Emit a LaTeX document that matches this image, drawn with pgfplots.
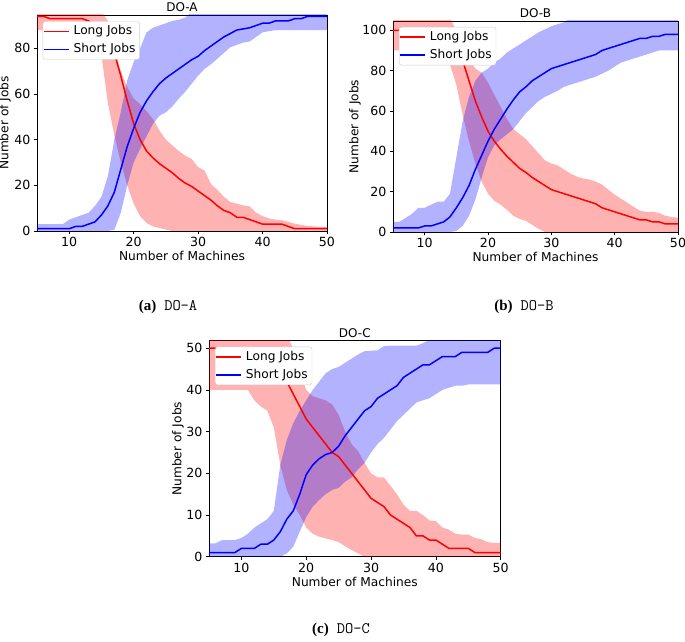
\documentclass[border=0pt]{standalone}
\usepackage{fontspec}
\setmainfont{DejaVu Sans}
\newfontfamily\capfont{Liberation Serif}
\usepackage{pgfplots}
\pgfplotsset{compat=1.18}
\usepackage{pgfplotstable}
\usepgfplotslibrary{fillbetween}

\pgfplotstableread{
x rm rl ru bm bl bu
5 94 88 96 1 0 3
6 94 88 96 1 0 3
7 93 88 96 1 0 3
8 93 88 96 1 0 3
9 93 88 96 1 0 3
10 93 88 96 1 0 5
11 93 88 96 2 0 6
12 93 88 96 2 0 7
13 92 85 96 3 0 8
14 90 82 96 4 0 11
15 89 77 96 7 0 15
16 86 56 92 11 0 24
17 78 42 80 17 0.5 40
18 68 30 70 27 8 52
19 57 20 63 37 20 66
20 47 12 58 45 30 74
21 40 6.5 55.5 52 36 80
22 35 3.5 52.5 57 41.5 87
23 32 2 49 61 47 89
24 29.5 1.3 44 64.5 50.5 90
25 27.5 0.6 40 67 52 91
26 25.5 0 37.5 69 54.5 92
27 23 0 35 71 58 92.5
28 21 0 33 73 61 93.5
29 19.5 0 31.5 75 64.5 96
30 17.5 0 28 76.5 68 96
31 15.5 0 26.5 79 71 96
32 13.5 0 20.5 81 73 96
33 11 0 18 83 75.5 96
34 9 0 15 85 78 96
35 8 0 12.7 86.5 80.5 96
36 6 0 12 88 81.5 96
37 6 0 11.2 88.5 82.5 96
38 5 0 10.8 89 83 96
39 4 0 8 90 85 96
40 3 0 6.5 91 87 96
41 3 0 5.5 91 87.5 96
42 3 0 5 92 88 96
43 3 0 4.7 92 88 96
44 2 0 4 92 88 96
45 1 0 3.2 93 88 96
46 1 0 2.7 93 88 96
47 1 0 2.2 94 88 96
48 1 0 2 94 88 96
49 1 0 1.8 94 88 96
50 1 0 1.7 94 88 96
}\dataA

\pgfplotstableread{
x rm rl ru bm bl bu
5 100 90 106 2 0 5
6 100 90 106 2 0 5
7 100 90 106 2 0 7
8 100 90 106 2 0 9
9 100 90 106 2 0 12
10 99.5 90 106 3 0 12
11 99 89.5 106 3 0 13.5
12 98.5 89 106 4 0 15
13 98 87 106 5 0 15
14 96.5 83 106 7.5 0 19
15 93 73 100 12 0.5 37
16 85 58 93 17 3 55
17 75 45 86 23 8 67
18 65 34 81 31 16 75
19 57 25 79 38 27 79
20 50 19 74 45 37 81
21 45 15.5 68 51 43 84
22 41 13.5 62 56 46 86
23 37.5 11 56 61 48.5 89
24 34.5 8 51 65.5 51 91
25 31.5 6.5 48.5 69.5 55 93
26 29.5 5.5 46 72 59 95
27 27 3.5 42.5 75 62 97
28 25 1.5 39 77 65 99
29 23 0 35.5 79 67 100.5
30 21 0 34 81 68.5 102
31 20 0 33 82 70 103
32 19 0 31 83 72 104
33 18 0 29 84 73 106
34 17 0 27.5 85 74 106
35 16 0 26.5 86 75 106
36 15 0 26 87 76 106
37 14 0 25 88 77 106
38 12 0 23.5 90 78.5 106
39 11 0 21 91 80 106
40 10 0 18.5 92 82 106
41 9 0 16.5 93 84 106
42 8 0 14.5 94 85 106
43 7 0 12.5 95 86 106
44 6 0 10.5 96 87 106
45 6 0 10 96 88 106
46 5 0 10 97 89 106
47 5 0 9.5 97 90 106
48 4 0 8 98 90 106
49 4 0 7.5 98 90 106
50 4 0 7 98 90 106
}\dataB

\pgfplotstableread{
x rm rl ru bm bl bu
5 50 40 53 1 0 3.2
6 50 40 53 1 0 3.2
7 49 40 53 1 0 4
8 49 40 53 1 0 4
9 49 40 53 1 0 4
10 49 40 53 2 0 4.5
11 48.5 40 53 2 0 5.5
12 48 37.5 53 2 0 7
13 47.5 36 53 3 0 8
14 47 35 53 3 0 9
15 46 31 53 4 0 11
16 45 22 53 6 0 22
17 42 16 53 9 0.8 28
18 39 12.5 50 11 2.4 32
19 36 10 44 15 6 35
20 33 7 40 19.7 9.5 37.5
21 31 5.5 38.5 22 12 40
22 29 4.8 38 23.5 13.6 42
23 27 4.4 37.5 24.5 15 44
24 25 4 36.5 25 16 45
25 24 3.5 34 26.5 16.5 45.5
26 22 2.5 30 29 18 46.5
27 20 1.6 27 31 19 47.5
28 18 0.8 25.3 33 21 48.5
29 16 0 22.5 35 22.5 49.3
30 14 0 20 36 25 49.4
31 13 0 19 38 27 49.5
32 12 0 19 39 28.5 50.5
33 10 0 17 40 30.5 50.6
34 9 0 15 41 32.5 50.6
35 8 0 12.5 43 34 50.6
36 7 0 11 44 35.5 50.6
37 5 0 11 45 37 50.6
38 5 0 10 46 37.5 51.2
39 4 0 8.7 46 38 52
40 4 0 8.5 47 39 53
41 3 0 7 48 40 53
42 2 0 6.5 48 40.5 53
43 2 0 5.5 48 41 53
44 2 0 5.3 49 41 53
45 2 0 5.3 49 41.3 53
46 1 0 4.5 49 41.3 53
47 1 0 4.2 49 41.3 53
48 1 0 3.5 49 41.3 53
49 1 0 3.3 50 41.3 53
50 1 0 3.3 50 41.3 53
}\dataC

\pgfplotsset{
  myax/.style={
    scale only axis,
    xmin=5, xmax=50, ymin=0,
    xtick={10,20,30,40,50},
    tick align=outside,
    tick pos=left,
    major tick length=3pt,
    axis line style={line width=0.6pt},
    every tick/.style={black, line width=0.6pt},
    tick label style={font=\fontsize{12.6}{15}\selectfont},
    label style={font=\fontsize{12.2}{15}\selectfont},
    title style={font=\fontsize{12}{15}\selectfont, at={(axis description cs:0.5,1)}, anchor=base, yshift=-2.4pt},
    xlabel style={at={(axis description cs:0.5,0)}, anchor=base, yshift=-29.5pt},
    /pgf/number format/assume math mode=true,
    xlabel={Number of Machines},
    ylabel={Number of Jobs},
    legend cell align=left,
    legend style={anchor=north west, font=\fontsize{12.2}{14}\selectfont,
      draw=black!20, rounded corners=2.5pt, fill=white,
      inner xsep=0pt, inner ysep=1pt, row sep=0pt,
      nodes={font=\fontsize{12.2}{14}\selectfont, inner xsep=4.25pt, inner ysep=2.9pt,
        text height=9.3pt, text depth=2.9pt}},
  },
  band/.style={draw=none, fill=#1, fill opacity=0.3, forget plot},
  lrline/.style={color=#1, line width=1.5pt},
}

\newcommand{\plotdata}[1]{%
  \addlegendimage{legend image code/.code={\draw[red, line width=1.5pt] (0pt,0pt) -- (25pt,0pt);}}
  \addlegendentry{Long Jobs}
  \addlegendimage{legend image code/.code={\draw[blue, line width=1.5pt] (0pt,0pt) -- (25pt,0pt);}}
  \addlegendentry{Short Jobs}
  \addplot[name path=ru, draw=none, forget plot] table[x=x,y=ru]{#1};
  \addplot[name path=rl, draw=none, forget plot] table[x=x,y=rl]{#1};
  \addplot[band=red] fill between[of=ru and rl];
  \addplot[name path=bu, draw=none, forget plot] table[x=x,y=bu]{#1};
  \addplot[name path=bl, draw=none, forget plot] table[x=x,y=bl]{#1};
  \addplot[band=blue] fill between[of=bu and bl];
  \addplot[lrline=red, forget plot] table[x=x,y=rm]{#1};
  \addplot[lrline=blue, forget plot] table[x=x,y=bm]{#1};
}

\begin{document}
\begin{tikzpicture}

\begin{axis}[myax, at={(37pt,410pt)}, anchor=south west, width=290pt, height=216pt,
  ymax=94.6, ytick={0,20,40,60,80}, title={DO-A},
  ylabel style={at={(axis description cs:-0.1103,0.5)}, anchor=center},
  legend style={at={(axis description cs:0.0197,0.971)}}]
\plotdata{\dataA}
\end{axis}

\begin{axis}[myax, at={(393pt,409pt)}, anchor=south west, width=285pt, height=211pt,
  ymax=104.6, ytick={0,20,40,60,80,100}, title={DO-B},
  ylabel style={at={(axis description cs:-0.1333,0.5)}, anchor=center},
  legend style={at={(axis description cs:0.021,0.9716)}}]
\plotdata{\dataB}
\end{axis}

\begin{axis}[myax, at={(209pt,84.3pt)}, anchor=south west, width=291.7pt, height=216pt,
  ymax=51.8, ytick={0,10,20,30,40,50}, title={DO-C},
  ylabel style={at={(axis description cs:-0.1063,0.5)}, anchor=center},
  legend style={at={(axis description cs:0.0206,0.972)}}]
\plotdata{\dataC}
\end{axis}

\node[anchor=base] at (168pt,330.5pt) {{\fontsize{15}{18}\selectfont\capfont\bfseries (a)}\hspace{8pt}{\fontsize{16}{18}\selectfont\ttfamily DO-A}};
\node[anchor=base] at (524pt,330.5pt) {{\fontsize{15}{18}\selectfont\capfont\bfseries (b)}\hspace{8pt}{\fontsize{16}{18}\selectfont\ttfamily DO-B}};
\node[anchor=base] at (341pt,8pt) {{\fontsize{15}{18}\selectfont\capfont\bfseries (c)}\hspace{8pt}{\fontsize{16}{18}\selectfont\ttfamily DO-C}};

\pgfresetboundingbox
\path[use as bounding box] (0,0) rectangle (685pt,641pt);
\end{tikzpicture}
\end{document}
